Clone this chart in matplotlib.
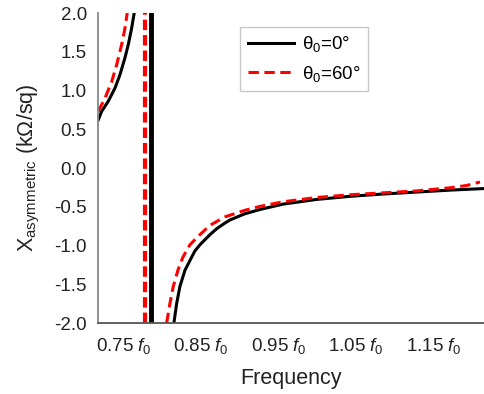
import matplotlib
matplotlib.use("Agg")
import matplotlib.pyplot as plt
import numpy as np

plt.rcParams['font.family'] = ['Liberation Sans', 'DejaVu Sans']
plt.rcParams['mathtext.fontset'] = 'custom'
plt.rcParams['mathtext.rm'] = 'Liberation Sans'
plt.rcParams['mathtext.it'] = 'Liberation Sans:italic'

# ---- data (frequency in units of f0, X in kOhm/sq)
# theta0 = 0 deg
f0_left = [0.7168, 0.7212, 0.7297, 0.7384, 0.7448, 0.7513, 0.7556, 0.7599, 0.7633]
x0_left = [0.62, 0.73, 0.86, 1.03, 1.20, 1.42, 1.59, 1.80, 2.0]
f0_res = 0.7855
f0_right = [0.8146, 0.8181, 0.8223, 0.8288, 0.8375, 0.8417, 0.8482, 0.8611, 0.8702,
            0.8805, 0.8870, 0.9063, 0.9257, 0.9558, 0.9990, 1.0420, 1.0850,
            1.1282, 1.1712, 1.2142]
x0_right = [-2.0, -1.75, -1.53, -1.32, -1.15, -1.07, -0.99, -0.86, -0.78,
            -0.71, -0.67, -0.59, -0.535, -0.465, -0.405, -0.365, -0.335,
            -0.31, -0.285, -0.265]

# theta0 = 60 deg
f60_left = [0.7168, 0.7255, 0.7341, 0.7406, 0.7470, 0.7513, 0.7543]
x60_left = [0.73, 0.90, 1.11, 1.33, 1.59, 1.80, 2.0]
f60_res = 0.7771
f60_right = [0.8052, 0.8094, 0.8137, 0.8197, 0.8262, 0.8353, 0.8460, 0.8611,
             0.8805, 0.9063, 0.9257, 0.9558, 0.9990, 1.0420, 1.0850, 1.1282,
             1.1712, 1.1928, 1.2100]
x60_right = [-2.0, -1.75, -1.53, -1.32, -1.15, -0.99, -0.88, -0.74,
             -0.63, -0.545, -0.495, -0.435, -0.38, -0.345, -0.32, -0.295,
             -0.255, -0.225, -0.18]

xticks = [0.75, 0.85, 0.95, 1.05, 1.15]
xtick_labels = ['0.75 $f_0$', '0.85 $f_0$', '0.95 $f_0$', '1.05 $f_0$', '1.15 $f_0$']
yticks = [2.0, 1.5, 1.0, 0.5, 0.0, -0.5, -1.0, -1.5, -2.0]

fig = plt.figure(figsize=(4.85, 3.94), dpi=100)
ax = fig.add_axes([0.202, 0.180, 0.798, 0.787])

dash = (0, (3.4, 1.8))

# black solid
ax.plot(f0_left, x0_left, color='black', lw=2.2, label=r'θ$_0$=0°')
ax.plot(f0_right, x0_right, color='black', lw=2.2)
ax.axvline(f0_res, color='black', lw=3.5)

# red dashed
ax.plot(f60_left, x60_left, color='#ff0000', lw=2.2, ls=dash, label=r'θ$_0$=60°')
ax.plot(f60_right, x60_right, color='#ff0000', lw=2.2, ls=dash)
ax.axvline(f60_res, color='#ff0000', lw=3.0, ls=(0, (2.5, 1.2)))

ax.set_xlim(0.7165, 1.2165)
ax.set_ylim(-2.0, 2.0)
ax.set_xticks(xticks)
ax.set_xticklabels(xtick_labels)
ax.set_yticks(yticks)
ax.set_yticklabels(['%.1f' % v for v in yticks])
ax.tick_params(length=0, labelsize=13.5, colors='#222222')
ax.tick_params(axis='x', pad=9)
ax.tick_params(axis='y', pad=8)

for s in ['top', 'right']:
    ax.spines[s].set_visible(False)
ax.spines['left'].set_color('#888888')
ax.spines['left'].set_linewidth(1.3)
ax.spines['bottom'].set_color('#555555')
ax.spines['bottom'].set_linewidth(1.3)

ax.set_xlabel('Frequency', fontsize=15.5, color='#222222', labelpad=9)
ax.set_ylabel(r'X$_{\mathrm{asymmetric}}$ (kΩ/sq)', fontsize=15.5, color='#222222', labelpad=9)

leg = ax.legend(loc='upper left', bbox_to_anchor=(0.367, 0.955), borderaxespad=0,
                fontsize=13.5, frameon=True, fancybox=False, edgecolor='#bbbbbb',
                handlelength=2.5, handletextpad=0.4, borderpad=0.4, labelspacing=0.5)
leg.get_frame().set_linewidth(1.0)

fig.savefig('out.png', dpi=100)
